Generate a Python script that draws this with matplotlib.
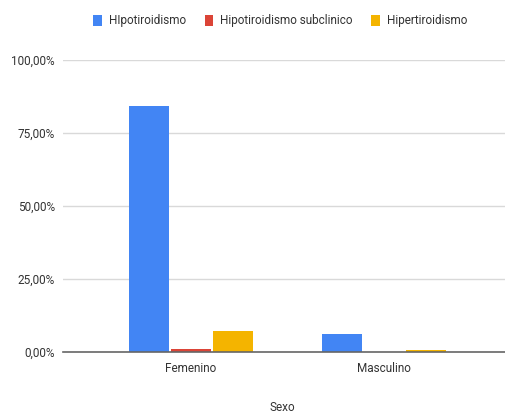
import numpy as np
import matplotlib.pyplot as plt
from matplotlib.ticker import FuncFormatter

categories = ['Femenino', 'Masculino']
series_names = ['HIpotiroidismo', 'Hipotiroidismo subclinico', 'Hipertiroidismo']
hipotiroidismo = [84.3, 6.2]
subclinico = [0.9, 0.0]
hipertiroidismo = [7.3, 0.7]
colors = ['#4285F4', '#DB4437', '#F4B400']

plt.rcParams['font.family'] = ['Roboto', 'DejaVu Sans']

fig = plt.figure(figsize=(5.05, 4.16), dpi=100)
ax = fig.add_axes([0.125, 0.154, 0.875, 0.702])

x = np.arange(len(categories))
w = 0.207
step = 0.216
for i, (vals, name, c) in enumerate(zip([hipotiroidismo, subclinico, hipertiroidismo], series_names, colors)):
    ax.bar(x + (i - 1) * step, vals, width=w, color=c, label=name, zorder=3)

ax.set_xlim(-0.663, 1.627)
ax.set_ylim(0, 100)
ax.set_yticks([0, 25, 50, 75, 100])
ax.yaxis.set_major_formatter(FuncFormatter(lambda v, p: f'{v:.2f}%'.replace('.', ',')))
ax.grid(axis='y', color='#d9d9d9', linewidth=1, zorder=0)
ax.set_xticks(x)
ax.set_xticklabels(categories)
ax.tick_params(axis='both', length=0, labelsize=8.5, colors='#333333')
ax.tick_params(axis='y', pad=6)
ax.tick_params(axis='x', pad=7)
for s in ['top', 'right', 'left']:
    ax.spines[s].set_visible(False)
ax.spines['bottom'].set_color('#666666')
ax.spines['bottom'].set_linewidth(1.2)
ax.spines['bottom'].set_zorder(4)

fig.text(0.56, 0.02, 'Sexo', ha='center', va='center', fontsize=8.5, color='#333333')

leg = fig.legend(loc='center', bbox_to_anchor=(0.555, 0.95), ncol=3, frameon=False,
                 fontsize=8.5, handlelength=0.7, handleheight=1.0, handletextpad=0.6,
                 columnspacing=1.6)
for t in leg.get_texts():
    t.set_color('#333333')

fig.savefig('out.png', dpi=100)
